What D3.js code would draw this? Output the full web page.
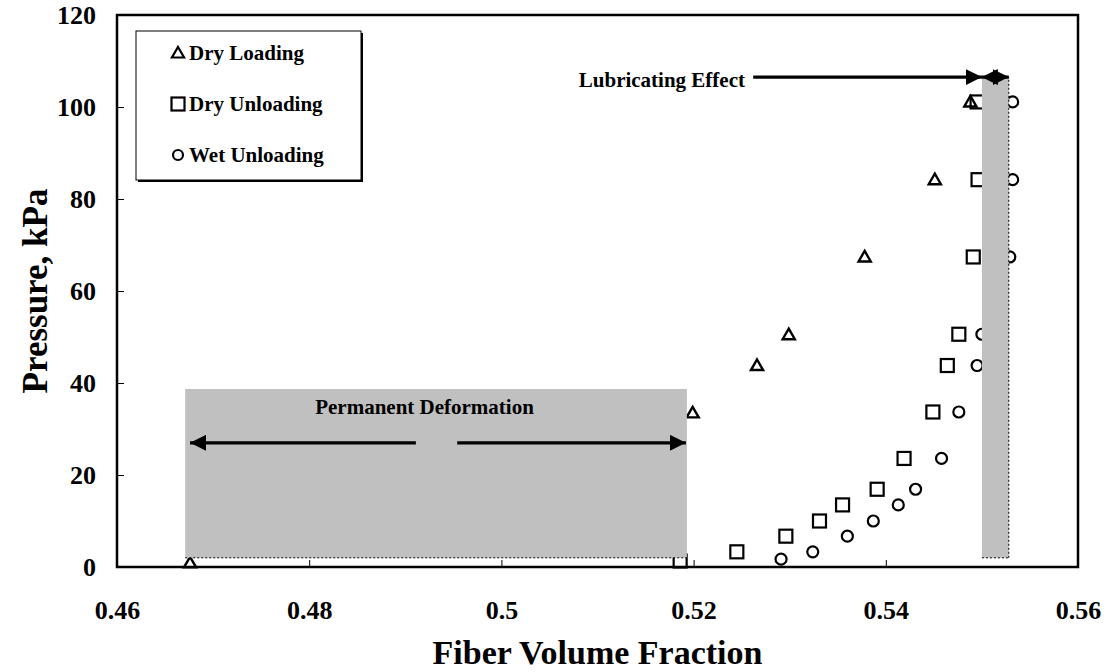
<!DOCTYPE html>
<html>
<head>
<meta charset="utf-8">
<script src="https://cdn.jsdelivr.net/npm/d3@7"></script>
<style>
body { margin:0; background:#fff; }
text { font-family: "Times New Roman", "Liberation Serif", serif; font-weight:bold; }
</style>
</head>
<body>
<svg id="svg1" width="1106" height="672"></svg>
<script>
// series
var dryLoadingX = [0.4676, 0.5199, 0.5266, 0.5299, 0.5378, 0.5451, 0.5488];
var dryLoadingY = [0.9, 33.5, 43.8, 50.5, 67.4, 84.2, 101.1];

var dryUnloadingX = [0.5186, 0.5245, 0.5296, 0.5331, 0.5355, 0.5391, 0.5419, 0.5449, 0.5464, 0.5476, 0.5491, 0.5496, 0.5495];
var dryUnloadingY = [1.3, 3.3, 6.7, 10.0, 13.5, 16.9, 23.6, 33.7, 43.8, 50.6, 67.4, 84.2, 101.1];

var wetUnloadingX = [0.5291, 0.5324, 0.5360, 0.5387, 0.5413, 0.5431, 0.5458, 0.5476, 0.5495, 0.5500, 0.5529, 0.5532, 0.5532];
var wetUnloadingY = [1.7, 3.3, 6.7, 10.0, 13.5, 16.9, 23.6, 33.7, 43.8, 50.6, 67.4, 84.2, 101.1];

var xTicks = [0.46, 0.48, 0.5, 0.52, 0.54, 0.56];
var yTicks = [0, 20, 40, 60, 80, 100, 120];
var seriesNames = ["Dry Loading", "Dry Unloading", "Wet Unloading"];

var margin = {top: 15, right: 28, bottom: 105, left: 117},
	width = 1106 - margin.left - margin.right,
	height = 672 - margin.top - margin.bottom;

var svg = d3.select("#svg1");
var g = svg.append("g").attr("transform", "translate(" + margin.left + "," + margin.top + ")");

var x = d3.scaleLinear().domain([0.46, 0.56]).range([0, width]);
var y = d3.scaleLinear().domain([0, 120]).range([height, 0]);

// axes, ticks on the inside
var xAxis = d3.axisBottom(x).tickValues(xTicks).tickSize(-7).tickPadding(34)
	.tickFormat(function(d){ return d3.format("")(+d.toFixed(2)); });
var yAxis = d3.axisLeft(y).tickValues(yTicks).tickSize(-7).tickPadding(21);

var gx = g.append("g").attr("transform", "translate(0," + height + ")").call(xAxis);
var gy = g.append("g").call(yAxis);
[gx, gy].forEach(function(a){
	a.select(".domain").remove();
	a.selectAll(".tick line").attr("stroke", "#000").attr("stroke-width", 1);
	a.selectAll(".tick text").style("font-size", "26px").attr("fill", "#000");
});

var pts = function(xs, ys){
	return xs.map(function(v, i){ return {x: v, y: ys[i]}; });
};

var tri = d3.symbol().type(d3.symbolTriangle).size(64);

g.selectAll(".dl").data(pts(dryLoadingX, dryLoadingY)).enter()
	.append("path").attr("class", "dl")
	.attr("d", tri)
	.attr("transform", function(d){ return "translate(" + x(d.x) + "," + (y(d.y) + 1) + ")"; })
	.attr("fill", "none").attr("stroke", "#000").attr("stroke-width", 2.4);

g.selectAll(".du").data(pts(dryUnloadingX, dryUnloadingY)).enter()
	.append("rect").attr("class", "du")
	.attr("x", function(d){ return x(d.x) - 6.5; })
	.attr("y", function(d){ return y(d.y) - 6.5; })
	.attr("width", 13).attr("height", 13)
	.attr("fill", "none").attr("stroke", "#000").attr("stroke-width", 2.2);

g.selectAll(".wu").data(pts(wetUnloadingX, wetUnloadingY)).enter()
	.append("circle").attr("class", "wu")
	.attr("cx", function(d){ return x(d.x); })
	.attr("cy", function(d){ return y(d.y); })
	.attr("r", 5.5)
	.attr("fill", "none").attr("stroke", "#000").attr("stroke-width", 2.2);

// shaded regions (drawn over the markers like in the original)
var shade = function(x0, x1, y0, y1, dashRight){
	g.append("rect")
		.attr("x", x(x0)).attr("y", y(y1))
		.attr("width", x(x1) - x(x0)).attr("height", y(y0) - y(y1))
		.attr("fill", "#c0c0c0");
	g.append("line")
		.attr("x1", x(x0)).attr("x2", x(x1)).attr("y1", y(y0)).attr("y2", y(y0))
		.attr("stroke", "#000").attr("stroke-width", 1).attr("stroke-dasharray", "2,2");
	if(dashRight)
	{
		g.append("line")
			.attr("x1", x(x1)).attr("x2", x(x1)).attr("y1", y(y0)).attr("y2", y(y1))
			.attr("stroke", "#000").attr("stroke-width", 1).attr("stroke-dasharray", "2,2");
	}
};
shade(0.4671, 0.5193, 2, 38.7, false);
shade(0.5500, 0.5528, 2, 106.5, true);

// arrows
var defs = svg.append("defs");
defs.append("marker").attr("id", "head")
	.attr("viewBox", "0 0 10 10").attr("refX", 10).attr("refY", 5)
	.attr("markerWidth", 5).attr("markerHeight", 5)
	.attr("markerUnits", "strokeWidth")
	.attr("orient", "auto-start-reverse")
	.append("path").attr("d", "M0,0L10,5L0,10z").attr("fill", "#000");

var arrow = function(xa, xb, yv, both){
	var l = g.append("line")
		.attr("x1", x(xa)).attr("x2", x(xb)).attr("y1", y(yv)).attr("y2", y(yv))
		.attr("stroke", "#000").attr("stroke-width", 3.2)
		.attr("marker-end", "url(#head)");
	if(both) l.attr("marker-start", "url(#head)");
};
arrow(0.4911, 0.4676, 27, false);
arrow(0.4954, 0.5192, 27, false);
arrow(0.5262, 0.5500, 106.5, false);
arrow(0.5500, 0.5528, 106.5, true);

g.append("text").attr("x", x(0.4920)).attr("y", y(33.3))
	.attr("text-anchor", "middle").style("font-size", "21px")
	.text("Permanent Deformation");
g.append("text").attr("x", x(0.5167)).attr("y", y(104.3))
	.attr("text-anchor", "middle").style("font-size", "21px")
	.text("Lubricating Effect");

// frame
g.append("rect").attr("width", width).attr("height", height)
	.attr("fill", "none").attr("stroke", "#000").attr("stroke-width", 2.5);

// legend
var legend = g.append("g").attr("transform", "translate(19,16)");
legend.append("rect").attr("x", 2).attr("y", 2).attr("width", 225).attr("height", 149).attr("fill", "#000");
legend.append("rect").attr("width", 225).attr("height", 149)
	.attr("fill", "#fff").attr("stroke", "#000").attr("stroke-width", 1);

var items = legend.selectAll(".item").data(seriesNames).enter()
	.append("g").attr("class", "item")
	.attr("transform", function(d, i){ return "translate(42," + (22 + i * 51) + ")"; });
items.each(function(d, i){
	var it = d3.select(this);
	if(i == 0) it.append("path").attr("d", tri).attr("transform", "translate(0,1)");
	if(i == 1) it.append("rect").attr("x", -6.5).attr("y", -6.5).attr("width", 13).attr("height", 13);
	if(i == 2) it.append("circle").attr("r", 5);
	it.selectAll("path,rect,circle").attr("fill", "none").attr("stroke", "#000").attr("stroke-width", 2.2);
});
items.append("text").attr("x", 11).attr("y", 7).style("font-size", "21px").text(function(d){ return d; });

// axis titles
svg.append("text").attr("x", margin.left + width / 2).attr("y", 664)
	.attr("text-anchor", "middle").style("font-size", "34px").text("Fiber Volume Fraction");
svg.append("text").attr("transform", "translate(47," + (margin.top + height / 2) + ") rotate(-90)")
	.attr("text-anchor", "middle").style("font-size", "35px").text("Pressure, kPa");
</script>
</body>
</html>
